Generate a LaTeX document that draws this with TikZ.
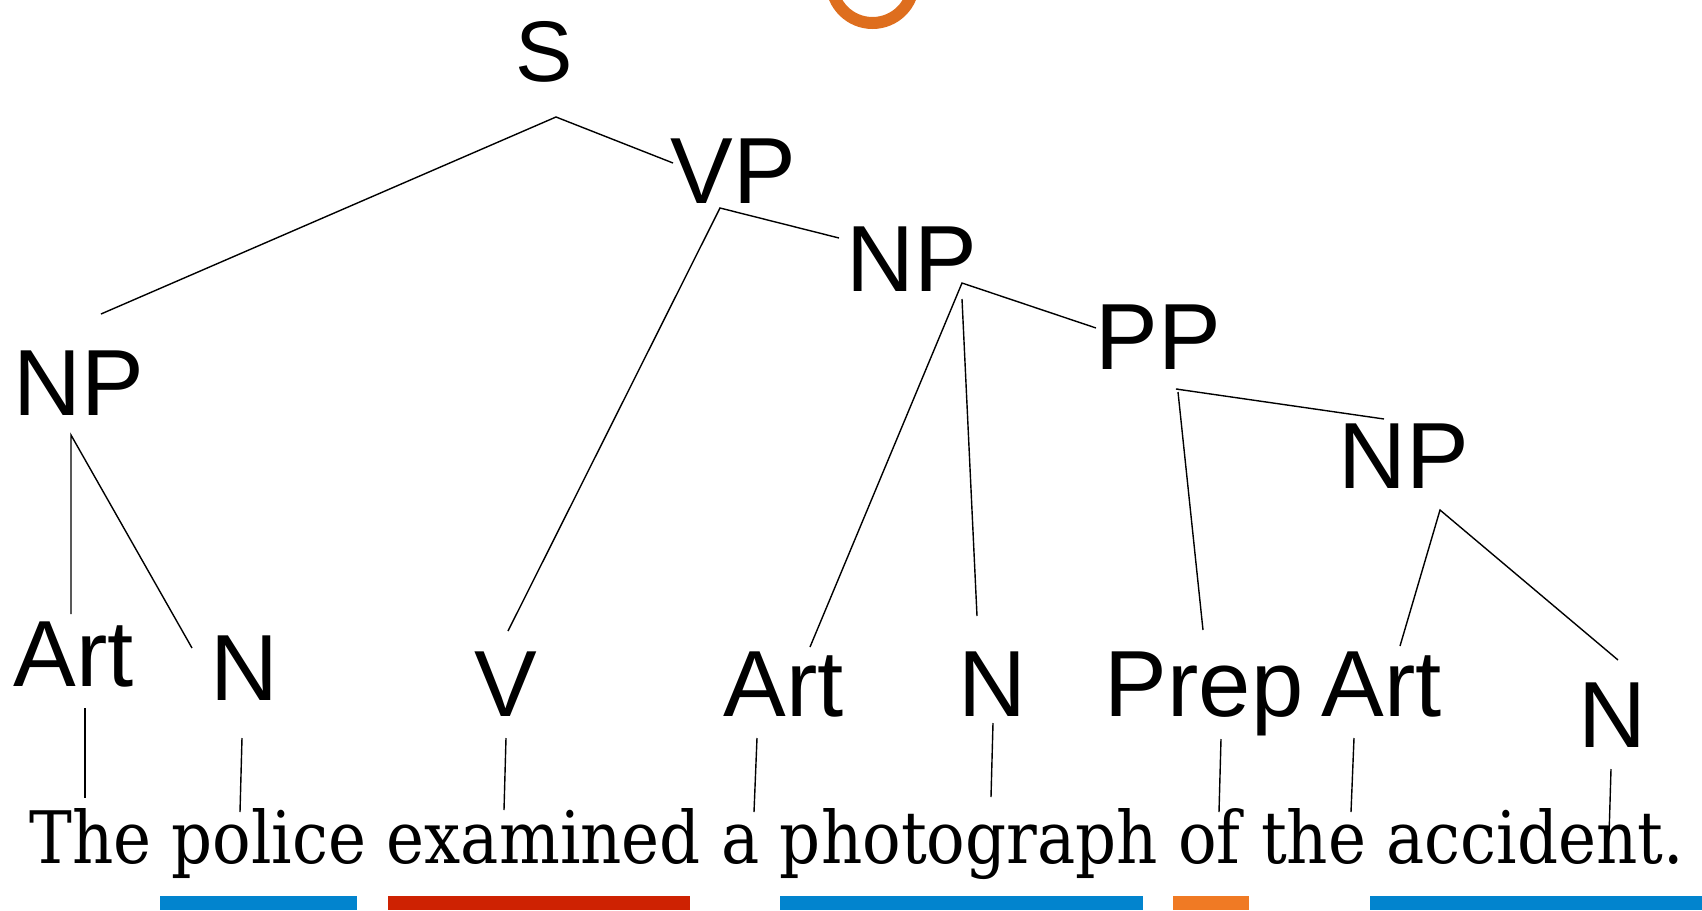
\documentclass[tikz,border=0pt]{standalone}
\usepackage{fontspec}
\usepackage{graphicx}
\newfontfamily\labfont{Liberation Sans}
\newfontfamily\sentfont{DejaVu Serif}
\definecolor{barblue}{RGB}{2,132,206}
\definecolor{barred}{RGB}{206,34,2}
\definecolor{barorange}{RGB}{240,122,36}
\definecolor{ringorange}{RGB}{222,110,30}
\tikzset{
  lab/.style={inner sep=0pt, anchor=base, font=\labfont\fontsize{94}{100}\selectfont},
  slab/.style={inner sep=0pt, anchor=base, font=\labfont\fontsize{86}{90}\selectfont},
  edge/.style={line width=1.4pt, black},
  bar/.style={fill=#1, draw=none}
}
\begin{document}
\begin{tikzpicture}[x=1pt,y=1pt]
\useasboundingbox (0,0) rectangle (1702,-910);
% ring at top
\draw[ringorange, line width=12pt] (872.5,18) circle (41);
% labels
\node[slab] (S) at (544,-81) {S};
\node[lab] (VP) at (733,-203) {VP};
\node[lab] (NPb) at (912,-291) {NP};
\node[lab] (NPa) at (79,-415) {NP};
\node[lab] (PP) at (1158,-369) {PP};
\node[lab] (NPc) at (1404,-488) {NP};
\node[lab] (Arta) at (74,-686) {Art};
\node[lab] (Na) at (244,-700) {N};
\node[lab] (V) at (506,-716) {V};
\node[lab] (Artb) at (784,-716) {Art};
\node[lab] (Nb) at (992,-716) {N};
\node[lab] (Prep) at (1204,-716) {Prep};
\node[lab] (Artc) at (1382,-716) {Art};
\node[lab] (Nc) at (1612,-747) {N};
% sentence
\node[inner sep=0pt, anchor=base west] (sent) at (29,-863)
  {\resizebox{1654pt}{55pt}{\sentfont The police examined a photograph of the accident.}};
% joints and ends
\coordinate (jS) at (556,-117);
\coordinate (eSa) at (101,-314);
\coordinate (eSb) at (673,-163);
\coordinate (jVP) at (720,-208);
\coordinate (eVa) at (508,-631);
\coordinate (eVb) at (839,-238);
\coordinate (jNPb) at (962,-283);
\coordinate (jNPb2) at (962,-299);
\coordinate (eNa) at (810,-647);
\coordinate (eNb) at (977,-616);
\coordinate (eNc) at (1096,-328);
\coordinate (jPP) at (1176,-389);
\coordinate (jPP2) at (1178,-392);
\coordinate (ePa) at (1203,-630);
\coordinate (ePb) at (1384,-419);
\coordinate (jNPc) at (1440,-510);
\coordinate (eCa) at (1400,-646);
\coordinate (eCb) at (1618,-660);
\coordinate (jNPa) at (71,-435);
\coordinate (eAa) at (71,-614);
\coordinate (eAb) at (192,-648);
\draw[edge] (eSa) -- (jS) -- (eSb);
\draw[edge] (eVa) -- (jVP) -- (eVb);
\draw[edge] (eNa) -- (jNPb) -- (eNc);
\draw[edge] (jNPb2) -- (eNb);
\draw[edge] (ePb) -- (jPP) -- ++(2,0);
\draw[edge] (jPP2) -- (ePa);
\draw[edge] (eCa) -- (jNPc) -- (eCb);
\draw[edge] (eAa) -- (jNPa) -- (eAb);
% word lines
\coordinate (wa1) at (85,-708);   \coordinate (wa2) at (85,-798);
\coordinate (wb1) at (242,-738);  \coordinate (wb2) at (240,-812);
\coordinate (wc1) at (506,-738);  \coordinate (wc2) at (504,-810);
\coordinate (wd1) at (757,-738);  \coordinate (wd2) at (754,-812);
\coordinate (we1) at (993,-723);  \coordinate (we2) at (991,-797);
\coordinate (wf1) at (1221,-739); \coordinate (wf2) at (1219,-812);
\coordinate (wg1) at (1354,-738); \coordinate (wg2) at (1351,-812);
\coordinate (wh1) at (1611,-769); \coordinate (wh2) at (1609,-836);
\foreach \w in {a,b,c,d,e,f,g,h} { \draw[edge] (w\w1) -- (w\w2); }
% bars
\fill[bar=barblue] (160,-896) rectangle (357,-910);
\fill[bar=barred] (388,-896) rectangle (690,-910);
\fill[bar=barblue] (780,-896) rectangle (1143,-910);
\fill[bar=barorange] (1173,-896) rectangle (1249,-910);
\fill[bar=barblue] (1370,-896) rectangle (1702,-910);
\end{tikzpicture}
\end{document}
